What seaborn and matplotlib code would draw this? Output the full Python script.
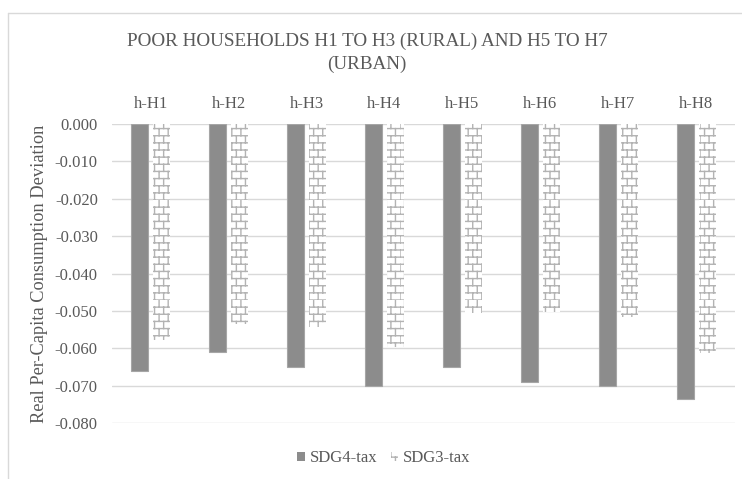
import numpy as np
import pandas as pd
import matplotlib
matplotlib.use("Agg")
import matplotlib.pyplot as plt
from matplotlib import hatch as mhatch
from matplotlib.path import Path
from matplotlib.lines import Line2D
import seaborn as sns

households = ["h-H1", "h-H2", "h-H3", "h-H4", "h-H5", "h-H6", "h-H7", "h-H8"]
sdg4_tax = [-0.066, -0.061, -0.065, -0.070, -0.065, -0.069, -0.070, -0.0735]
sdg3_tax = [-0.0577, -0.0535, -0.0543, -0.0597, -0.0507, -0.0502, -0.0517, -0.0612]
series_names = ["SDG4-tax", "SDG3-tax"]
y_ticks = [0.0, -0.01, -0.02, -0.03, -0.04, -0.05, -0.06, -0.07, -0.08]
title = "POOR HOUSEHOLDS H1 TO H3 (RURAL) AND H5 TO H7\n(URBAN)"
y_label = "Real Per-Capita Consumption Deviation"


class BrickHatch(mhatch.HatchPatternBase):
    """Brick-wall hatch: horizontal courses with staggered vertical joints."""

    def __init__(self, hatch, density):
        n = hatch.count('-')
        self.rows = 14 * n
        self.cols = 11 * n
        self.num_vertices = (self.rows + self.rows * self.cols) * 2

    def set_vertices_and_codes(self, vertices, codes):
        k = 0
        for i in range(self.rows):
            y0 = i / self.rows
            y1 = (i + 1) / self.rows
            vertices[k] = (0.0, y0)
            vertices[k + 1] = (1.0, y0)
            k += 2
            shift = 0.5 * (i % 2)
            for j in range(self.cols):
                x = (j + shift) / self.cols
                vertices[k] = (x, y0)
                vertices[k + 1] = (x, y1)
                k += 2
        codes[0::2] = Path.MOVETO
        codes[1::2] = Path.LINETO


for idx, ht in enumerate(mhatch._hatch_types):
    if ht is mhatch.HorizontalHatch:
        mhatch._hatch_types[idx] = BrickHatch

sns.set_theme(style="white")
plt.rcParams["font.family"] = ["Liberation Serif", "DejaVu Serif"]
plt.rcParams["hatch.linewidth"] = 1.0

text_color = "#595959"
grid_color = "#d9d9d9"
dark_color = "#8c8c8c"
brick_color = "#b3b3b3"

df = pd.DataFrame({
    "household": households * 2,
    "scenario": [series_names[0]] * len(households) + [series_names[1]] * len(households),
    "value": sdg4_tax + sdg3_tax,
})

fig = plt.figure(figsize=(7.42, 4.79), dpi=100)
ax = fig.add_axes([111.7 / 742, 1 - 423 / 479, (735 - 111.7) / 742, (423 - 124) / 479])

sns.barplot(data=df, x="household", y="value", hue="scenario",
            hue_order=series_names, order=households,
            palette=[dark_color, "white"], width=0.565, gap=0.23,
            ax=ax, legend=False, saturation=1)

for bar in ax.containers[0]:
    bar.set_facecolor(dark_color)
    bar.set_edgecolor("#a6a6a6")
    bar.set_linewidth(0.8)
for bar in ax.containers[1]:
    bar.set_facecolor("white")
    bar.set_edgecolor(brick_color)
    bar.set_linewidth(0)
    bar.set_hatch("-")

ax.set_ylim(-0.08, 0.0)
ax.set_yticks(y_ticks)
ax.set_yticklabels([f"{v:.3f}" if v != 0 else "0.000" for v in y_ticks])
ax.set_xlim(-0.5, len(households) - 0.5)
ax.xaxis.tick_top()
ax.tick_params(axis="x", length=0, pad=9, labelsize=12, labelcolor=text_color)
ax.tick_params(axis="y", length=0, pad=10, labelsize=12, labelcolor=text_color)
ax.set_xlabel("")
ax.set_ylabel(y_label, fontsize=13.2, color=text_color, labelpad=5)
ax.yaxis.grid(True, color=grid_color, linewidth=1.0)
ax.set_axisbelow(True)
for s in ax.spines.values():
    s.set_visible(False)

fig.text(367 / 742, 1 - 53 / 479, title, ha="center", va="center",
         fontsize=13.8, color=text_color, linespacing=1.45)

handles = [
    plt.Rectangle((0, 0), 1, 1, facecolor=dark_color, edgecolor=dark_color, linewidth=0),
    plt.Rectangle((0, 0), 1, 1, facecolor="white", edgecolor=brick_color, linewidth=0, hatch="-"),
]
fig.legend(handles, series_names, loc="center", bbox_to_anchor=(384 / 742, 1 - 458 / 479),
           ncol=2, frameon=False, fontsize=12, labelcolor=text_color,
           handlelength=0.45, handleheight=0.45, handletextpad=0.3, columnspacing=0.8)

# chart-area border
fig.add_artist(Line2D([8 / 742, 1.0], [1 - 13 / 479, 1 - 13 / 479], color=grid_color, linewidth=1.0,
                      transform=fig.transFigure))
fig.add_artist(Line2D([8 / 742, 8 / 742], [0.0, 1 - 13 / 479], color=grid_color, linewidth=1.0,
                      transform=fig.transFigure))

fig.savefig("out.png", dpi=100)
